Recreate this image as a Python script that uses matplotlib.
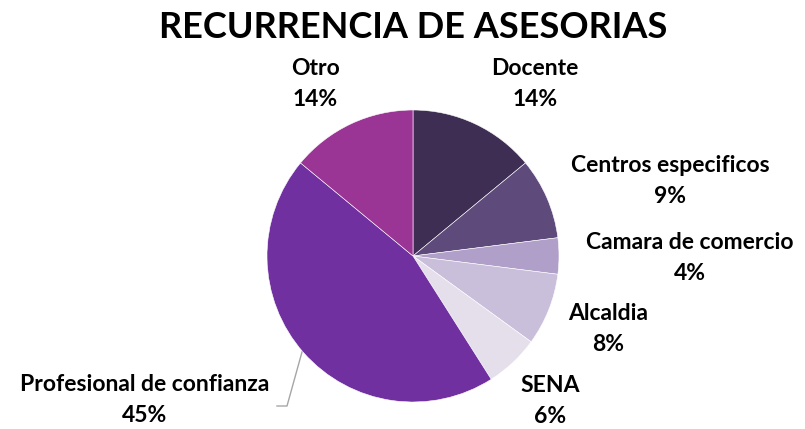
import matplotlib.pyplot as plt

# Data
categorias = ['Docente', 'Centros especificos', 'Camara de comercio', 'Alcaldia',
              'SENA', 'Profesional de confianza', 'Otro']
porcentajes = [14, 9, 4, 8, 6, 45, 14]
colores = ['#3F2E53', '#5E4A7B', '#B09FC8', '#CABFDB', '#E5DFEC', '#7030A0', '#9A3596']

# label centres in pixel coords (x, y from top)
pos_etiquetas = [(535, 84), (670, 181), (690, 258), (608, 329),
                 (550, 401), (145, 400), (315, 84)]

plt.rcParams['font.family'] = ['Lato', 'DejaVu Sans']

W, H = 805, 429
fig = plt.figure(figsize=(W / 100, H / 100), dpi=100)
ax = fig.add_axes([0, 0, 1, 1])

ax.pie(porcentajes, colors=colores, startangle=90, counterclock=False,
       center=(413, H - 256), radius=146,
       wedgeprops=dict(linewidth=0.4, edgecolor='white'))
ax.set_xlim(0, W)
ax.set_ylim(0, H)
ax.set_aspect('equal')
ax.axis('off')

for cat, p, (x, y) in zip(categorias, porcentajes, pos_etiquetas):
    ax.text(x, H - y, f'{cat}\n{p}%', ha='center', va='center',
            fontsize=16.5, fontweight='bold', color='#000000', linespacing=1.6)

# leader line for Profesional de confianza
ax.plot([302, 287, 277], [H - 352, H - 406, H - 406], color='#A6A6A6', lw=1)

ax.text(413, H - 27, 'RECURRENCIA DE ASESORIAS', ha='center', va='center',
        fontsize=26, fontweight='bold', color='#000000')

fig.savefig('out.png', dpi=100)
